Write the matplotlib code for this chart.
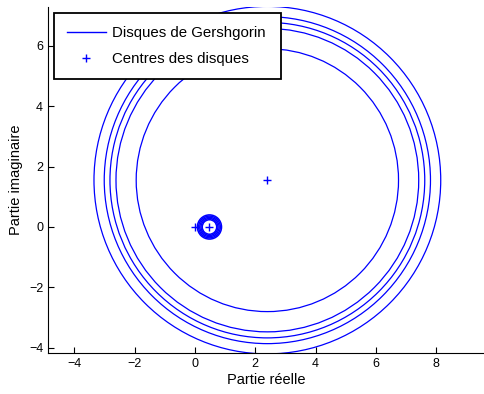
import numpy as np
import matplotlib.pyplot as plt
from matplotlib.patches import Circle
from matplotlib.lines import Line2D

plt.rcParams['font.family'] = ['Liberation Sans', 'DejaVu Sans']

big_centre = (2.40, 1.55)
big_radii = [5.75, 5.41, 5.22, 5.02, 4.35]
small_centre = (0.48, 0.0)
small_radii = [0.24, 0.28, 0.32, 0.36, 0.40]
centres_re = [0.0, 0.48, 2.40]
centres_im = [0.0, 0.0, 1.55]

x_ticks = [-4, -2, 0, 2, 4, 6, 8]
y_ticks = [-4, -2, 0, 2, 4, 6]

fig = plt.figure(figsize=(4.84, 3.94), dpi=100)
ax = fig.add_axes([48/484, 1-353/394, 1-48/484, (353-7)/394])

for r in big_radii:
    ax.add_patch(Circle(big_centre, r, fill=False, edgecolor='#0000ff', lw=0.9))
for r in small_radii:
    ax.add_patch(Circle(small_centre, r, fill=False, edgecolor='#0000ff', lw=1.1))
ax.plot(centres_re, centres_im, '+', color='#0000ff', markersize=6, mew=1.0)

ax.set_xlim(-4.875, 9.585)
ax.set_ylim(-4.17, 7.28)
ax.set_xticks(x_ticks)
ax.set_yticks(y_ticks)
ax.spines['top'].set_visible(False)
ax.spines['right'].set_visible(False)
ax.tick_params(direction='in', length=4, width=0.8, labelsize=9)
ax.set_xlabel('Partie réelle', fontsize=10.5, labelpad=2)
ax.set_ylabel('Partie imaginaire', fontsize=10.5, labelpad=4)

handles = [Line2D([], [], color='#0000ff', lw=1),
           Line2D([], [], ls='none', marker='+', color='#0000ff', markersize=6)]
leg = ax.legend(handles, ['Disques de Gershgorin', 'Centres des disques'],
                loc='upper left', mode='expand',
                bbox_to_anchor=(54/484, 1-75/394, 227/484, 62/394),
                bbox_transform=fig.transFigure, borderaxespad=0,
                fancybox=False, framealpha=1, edgecolor='black',
                fontsize=10.8, handlelength=2.6, labelspacing=0.85,
                borderpad=0.85, handletextpad=0.45)
leg.get_frame().set_linewidth(1.3)

fig.savefig('out.png', dpi=100)
